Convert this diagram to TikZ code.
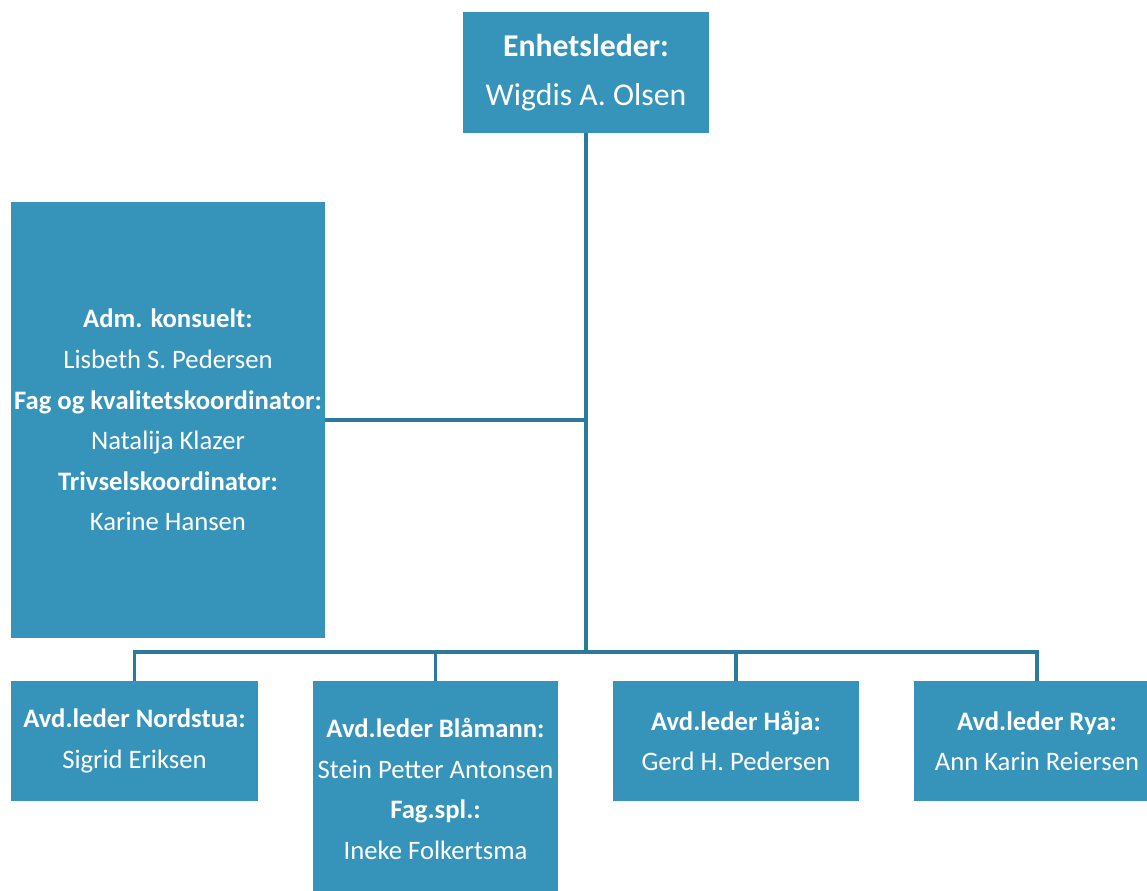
\documentclass[tikz,border=0pt]{standalone}
\usepackage{fontspec}
\setmainfont{Carlito}
\definecolor{boxfill}{HTML}{3694BB}
\definecolor{linecol}{HTML}{2C7A99}
\begin{document}
\begin{tikzpicture}[x=0.75pt,y=-0.75pt,
  box/.style={fill=boxfill, draw=none, text=white, inner sep=0pt, align=center},
  bigtxt/.style={font=\fontsize{23.8pt}{36.75pt}\selectfont},
  smalltxt/.style={font=\fontsize{20pt}{30.4pt}\selectfont},
  conn/.style={draw=linecol, line width=2.4pt}]
\useasboundingbox (0,0) rectangle (1147,890);
\node[box, bigtxt, minimum width=184.5pt, minimum height=90.75pt] (top) at (586,72.5)
  {\textbf{Enhetsleder:}\\Wigdis A. Olsen};
\node[box, smalltxt, minimum width=235.5pt, minimum height=327pt] (left) at (168,420)
  {\textbf{Adm. konsuelt:}\\Lisbeth S. Pedersen\\\textbf{Fag og kvalitetskoordinator:}\\Natalija Klazer\\\textbf{Trivselskoordinator:}\\Karine Hansen};
\node[box, smalltxt, minimum width=185.25pt, minimum height=90pt] (b1) at (134.5,741)
  {\textbf{Avd.leder Nordstua:}\\Sigrid Eriksen};
\node[box, minimum width=183.75pt, minimum height=164.25pt] (b2) at (435.5,790.5) {};
\node[smalltxt, text=white, align=center, inner sep=0pt] (b2t) at (435.5,789)
  {\textbf{Avd.leder Blåmann:}\\Stein Petter Antonsen\\\textbf{Fag.spl.:}\\Ineke Folkertsma};
\node[box, smalltxt, minimum width=184.5pt, minimum height=90pt] (b3) at (736,741)
  {\textbf{Avd.leder Håja:}\\Gerd H. Pedersen};
\node[box, smalltxt, minimum width=184.5pt, minimum height=90pt] (b4) at (1037,741)
  {\textbf{Avd.leder Rya:}\\Ann Karin Reiersen};
\coordinate (bus) at (586,652);
\coordinate (lj) at (586,420);
\draw[conn] (top.south) -- (bus);
\draw[conn] (left.east) -- (lj);
\draw[conn] (b1.north) |- (bus);
\draw[conn] (b4.north) |- (bus);
\draw[conn] (b2.north) -- (b2.north |- bus);
\draw[conn] (b3.north) -- (b3.north |- bus);
\end{tikzpicture}
\end{document}
